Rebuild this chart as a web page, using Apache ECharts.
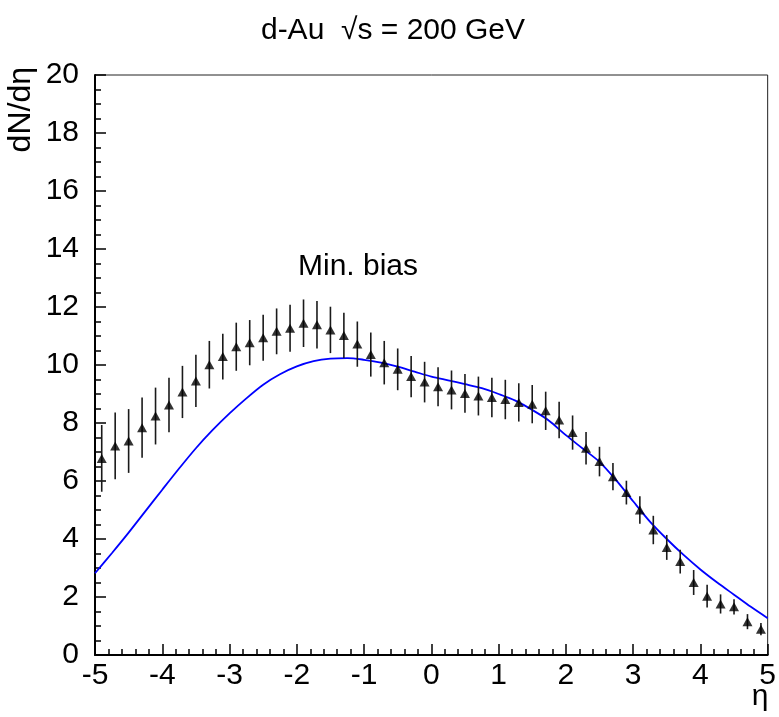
<!DOCTYPE html>
<html>
<head>
<meta charset="utf-8">
<script src="https://cdn.jsdelivr.net/npm/echarts@6/dist/echarts.min.js"></script>
<style>
  html, body { margin: 0; padding: 0; background: #fff; }
  #main { width: 779px; height: 717px; }
</style>
</head>
<body>
<div id="main"></div>
<script>
// 数据点 (eta)
var dataEta = [-4.9, -4.7, -4.5, -4.3, -4.1, -3.9, -3.7, -3.5, -3.3, -3.1,
  -2.9, -2.7, -2.5, -2.3, -2.1, -1.9, -1.7, -1.5, -1.3, -1.1,
  -0.9, -0.7, -0.5, -0.3, -0.1, 0.1, 0.3, 0.5, 0.7, 0.9,
  1.1, 1.3, 1.5, 1.7, 1.9, 2.1, 2.3, 2.5, 2.7, 2.9,
  3.1, 3.3, 3.5, 3.7, 3.9, 4.1, 4.3, 4.5, 4.7, 4.9];
// dN/deta
var dataVal = [6.78, 7.21, 7.38, 7.84, 8.24, 8.62, 9.07, 9.45, 10.01, 10.29,
  10.63, 10.77, 10.94, 11.16, 11.27, 11.44, 11.39, 11.21, 11.02, 10.72,
  10.36, 10.08, 9.85, 9.60, 9.41, 9.25, 9.14, 9.02, 8.93, 8.88,
  8.81, 8.71, 8.65, 8.42, 8.10, 7.67, 7.13, 6.67, 6.15, 5.60,
  5.00, 4.31, 3.71, 3.22, 2.50, 2.03, 1.76, 1.66, 1.15, 0.89];
// 误差
var dataErr = [1.15, 1.15, 1.10, 1.04, 0.98, 0.94, 0.90, 0.90, 0.82, 0.79,
  0.83, 0.78, 0.79, 0.79, 0.81, 0.82, 0.82, 0.80, 0.78, 0.78,
  0.76, 0.75, 0.72, 0.71, 0.70, 0.67, 0.67, 0.67, 0.67, 0.68,
  0.68, 0.66, 0.66, 0.66, 0.63, 0.59, 0.56, 0.51, 0.47, 0.41,
  0.47, 0.49, 0.43, 0.41, 0.43, 0.39, 0.33, 0.26, 0.26, 0.21];

// 理论曲线
var curveEta = [-5, -4.75, -4.5, -4.25, -4, -3.75, -3.5, -3.25, -3, -2.75,
  -2.5, -2.25, -2, -1.75, -1.5, -1.25, -1, -0.75, -0.5, -0.25,
  0, 0.25, 0.5, 0.75, 1, 1.25, 1.5, 1.75, 2, 2.25,
  2.5, 2.75, 3, 3.25, 3.5, 3.75, 4, 4.25, 4.5, 4.75, 5];
var curveVal = [2.82, 3.51, 4.22, 4.96, 5.70, 6.43, 7.13, 7.76, 8.33, 8.85,
  9.32, 9.68, 9.95, 10.13, 10.22, 10.24, 10.18, 10.08, 9.94, 9.77,
  9.60, 9.47, 9.34, 9.20, 9.00, 8.77, 8.45, 8.08, 7.58, 7.12,
  6.66, 6.02, 5.30, 4.60, 4.00, 3.45, 2.95, 2.50, 2.08, 1.66, 1.27];

var FONT = 'Liberation Sans';

var points = [], bars = [], curve = [];
for (var i = 0; i < dataEta.length; i++) {
  points.push([dataEta[i], dataVal[i]]);
  bars.push([dataEta[i], dataVal[i] - dataErr[i], dataVal[i] + dataErr[i]]);
}
for (var j = 0; j < curveEta.length; j++) {
  curve.push([curveEta[j], curveVal[j]]);
}

var chart = echarts.init(document.getElementById('main'));

var option = {
  backgroundColor: '#fff',
  animation: false,
  grid: {
    left: 95, right: 9, top: 75, bottom: 62,
    show: true, borderColor: '#222', borderWidth: 1
  },
  graphic: [
    { type: 'text', x: 393, y: 31,
      style: { text: 'd-Au  \u221As = 200 GeV', font: '30px ' + FONT, fill: '#000',
        align: 'center', verticalAlign: 'middle' } },
    { type: 'text', x: 21, y: 67, rotation: Math.PI / 2,
      style: { text: 'dN/d\u03B7', font: '32px ' + FONT, fill: '#000',
        align: 'right', verticalAlign: 'middle' } },
    { type: 'text', x: 760, y: 697,
      style: { text: '\u03B7', font: '30px ' + FONT, fill: '#000',
        align: 'center', verticalAlign: 'middle' } },
    { type: 'text', x: 298, y: 267,
      style: { text: 'Min. bias', font: '30px ' + FONT, fill: '#000',
        align: 'left', verticalAlign: 'middle' } }
  ],
  xAxis: {
    type: 'value', min: -5, max: 5, interval: 1,
    axisLine: { onZero: false, lineStyle: { color: '#000', width: 2 } },
    axisTick: { inside: true, length: 11, lineStyle: { color: '#000', width: 1.5 } },
    minorTick: { show: true, splitNumber: 5, length: 6, lineStyle: { color: '#000', width: 1.5 } },
    splitLine: { show: false },
    axisLabel: { color: '#000', fontFamily: FONT, fontSize: 30, margin: 6 }
  },
  yAxis: {
    type: 'value', min: 0, max: 20, interval: 2,
    axisLine: { show: true, onZero: false, lineStyle: { color: '#000', width: 2 } },
    axisTick: { show: true, inside: true, length: 11, lineStyle: { color: '#000', width: 1.5 } },
    minorTick: { show: true, splitNumber: 4, length: 6, lineStyle: { color: '#000', width: 1.5 } },
    splitLine: { show: false },
    axisLabel: { color: '#000', fontFamily: FONT, fontSize: 30, margin: 16 }
  },
  series: [
    {
      // 理论曲线
      type: 'line',
      data: curve,
      smooth: 0.3,
      showSymbol: false,
      lineStyle: { color: '#0000ff', width: 1.8 },
      z: 2
    },
    {
      // 误差棒
      type: 'custom',
      data: bars,
      renderItem: function (params, api) {
        var lo = api.coord([api.value(0), api.value(1)]);
        var hi = api.coord([api.value(0), api.value(2)]);
        return {
          type: 'line',
          shape: { x1: lo[0], y1: lo[1], x2: hi[0], y2: hi[1] },
          style: { stroke: '#1a1a1a', lineWidth: 1.6 }
        };
      },
      z: 3
    },
    {
      // 数据点
      type: 'scatter',
      data: points,
      symbol: 'triangle',
      symbolSize: [10, 9],
      itemStyle: { color: '#000' },
      z: 4
    }
  ]
};

chart.setOption(option);
</script>
</body>
</html>
